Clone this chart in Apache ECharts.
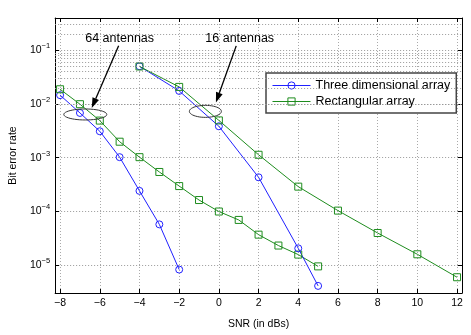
<!DOCTYPE html>
<html>
<head>
<meta charset="utf-8">
<script src="https://cdn.jsdelivr.net/npm/echarts@6/dist/echarts.min.js"></script>
<style>
html, body { margin: 0; padding: 0; background: #fff; }
#chart { width: 471px; height: 335px; }
</style>
</head>
<body>
<div id="chart"></div>
<script>
// SNR values (dB) and bit error rates
var snr3D64 = [-8, -7, -6, -5, -4, -3, -2]
var ber3D64 = [1.46e-2, 6.8e-3, 3.1e-3, 1.02e-3, 2.4e-4, 5.7e-5, 8.2e-6]
var snrRect64 = [-8, -7, -6, -5, -4, -3, -2, -1, 0, 1, 2, 3, 4, 5]
var berRect64 = [1.88e-2, 9.9e-3, 4.9e-3, 1.98e-3, 1.02e-3, 5.4e-4, 2.95e-4, 1.62e-4, 9.9e-5, 6.9e-5, 3.67e-5, 2.3e-5, 1.56e-5, 9.4e-6]
var snr3D16 = [-4, -2, 0, 2, 4, 5]
var ber3D16 = [5.05e-2, 1.75e-2, 3.84e-3, 4.3e-4, 2.04e-5, 4.07e-6]
var snrRect16 = [-4, -2, 0, 2, 4, 6, 8, 10, 12]
var berRect16 = [5.0e-2, 2.08e-2, 4.94e-3, 1.13e-3, 2.88e-4, 1.03e-4, 3.94e-5, 1.58e-5, 5.9e-6]

var xTicks = [-8, -6, -4, -2, 0, 2, 4, 6, 8, 10, 12]
var yTickExps = [-5, -4, -3, -2, -1]
var legendNames = ['Three dimensional array', 'Rectangular array']

// annotations (data coordinates)
var noteTexts = ['64 antennas', '16 antennas']
var noteTextAt = [[-5, 0.163], [1.05, 0.163]]
var noteArrowFrom = [[-5.05, 0.121], [0.874, 0.121]]
var noteArrowTo = [[-6.405, 8.45e-3], [-0.148, 1.07e-2]]
var noteEllipseAt = [[-6.73, 6.37e-3], [-0.68, 7.28e-3]]

var BLUE = '#2020ff'
var GREEN = '#1e8c1e'
var FONT = 'Liberation Sans, Arial, Helvetica, sans-serif'

function pairs (xs, ys) {
  return xs.map(function (x, i) { return [x, ys[i]] })
}

// minor log grid values 2..9 x 10^n
var minorGrid = []
for (var n = -6; n <= -1; n++) {
  for (var k = 2; k <= 9; k++) {
    var v = k * Math.pow(10, n)
    if (v > 3e-6 && v < 0.4) minorGrid.push(v)
  }
}

function fmtX (v) {
  var r = Math.round(v)
  if (Math.abs(v - r) > 1e-6 || xTicks.indexOf(r) < 0) return ''
  return r < 0 ? '\u2212' + (-r) : String(r)
}

function fmtY (v) {
  var e = Math.log10(v)
  var r = Math.round(e)
  if (Math.abs(e - r) > 1e-6 || yTickExps.indexOf(r) < 0) return ''
  return '{b|10}{e|' + (r < 0 ? '\u2212' : '') + Math.abs(r) + '}'
}

function lineSeries (name, data, color, symbol) {
  return {
    name: name,
    type: 'line',
    data: data,
    symbol: symbol,
    symbolSize: 7,
    lineStyle: { color: color, width: 1 },
    itemStyle: { color: 'rgba(0,0,0,0)', borderColor: color, borderWidth: 1 },
    emphasis: { disabled: true },
    animation: false,
    z: 3
  }
}

var chart = echarts.init(document.getElementById('chart'))

var series = [
  lineSeries(legendNames[0], pairs(snr3D64, ber3D64), BLUE, 'circle'),
  lineSeries(legendNames[1], pairs(snrRect64, berRect64), GREEN, 'rect'),
  lineSeries(legendNames[0], pairs(snr3D16, ber3D16), BLUE, 'circle'),
  lineSeries(legendNames[1], pairs(snrRect16, berRect16), GREEN, 'rect')
]
series[0].markLine = {
  silent: true,
  symbol: ['none', 'none'],
  label: { show: false },
  animation: false,
  lineStyle: { type: [1, 2], color: '#999', width: 1 },
  data: minorGrid.map(function (v) { return { yAxis: v } })
}

var xBase = {
  type: 'value',
  min: -8.25,
  max: 12.25,
  splitNumber: 10,
  minInterval: 2,
  maxInterval: 2,
  axisLine: { onZero: false, lineStyle: { color: '#000', width: 1 } },
  axisTick: { inside: true, length: 4, lineStyle: { color: '#000' } }
}
var yBase = {
  type: 'log',
  logBase: 10,
  min: 3e-6,
  max: 0.4,
  axisLine: { onZero: false, lineStyle: { color: '#000', width: 1 } },
  axisTick: { inside: true, length: 4, lineStyle: { color: '#000' } }
}

chart.setOption({
  animation: false,
  grid: { left: 47, right: 9, top: 18, bottom: 38 },
  legend: {
    orient: 'vertical',
    left: 266,
    top: 73,
    padding: [6, 6, 5, 6],
    itemWidth: 38,
    itemHeight: 9,
    itemGap: 3,
    backgroundColor: '#fff',
    borderColor: '#444',
    borderWidth: 1.5,
    borderRadius: 0,
    selectedMode: false,
    lineStyle: { width: 1 },
    itemStyle: { borderWidth: 1 },
    textStyle: { fontSize: 12.5, color: '#000', fontFamily: FONT },
    data: legendNames
  },
  xAxis: [
    Object.assign({}, xBase, {
      position: 'bottom',
      axisLabel: { formatter: fmtX, color: '#000', fontSize: 10.5, fontFamily: FONT, margin: 5 },
      splitLine: { show: true, lineStyle: { type: [1, 2], color: '#aaa', width: 1 } },
      name: 'SNR (in dBs)',
      nameLocation: 'middle',
      nameGap: 26,
      nameTextStyle: { color: '#000', fontSize: 10.5, fontFamily: FONT }
    }),
    Object.assign({}, xBase, {
      position: 'top',
      axisLabel: { show: false },
      splitLine: { show: false }
    })
  ],
  yAxis: [
    Object.assign({}, yBase, {
      position: 'left',
      axisLabel: {
        formatter: fmtY,
        margin: 5,
        rich: {
          b: { fontSize: 10.5, color: '#000', fontFamily: FONT },
          e: { fontSize: 7.5, color: '#000', fontFamily: FONT, padding: [0, 0, 8, 0] }
        }
      },
      splitLine: { show: true, lineStyle: { type: [1, 2], color: '#999', width: 1 } },
      name: 'Bit error rate',
      nameLocation: 'middle',
      nameGap: 28,
      nameTextStyle: { color: '#000', fontSize: 10.5, fontFamily: FONT }
    }),
    Object.assign({}, yBase, {
      position: 'right',
      axisLabel: { show: false },
      splitLine: { show: false }
    })
  ],
  series: series
})

// annotations: label, arrow and ellipse placed through the axes
function px (p) {
  return chart.convertToPixel({ xAxisIndex: 0, yAxisIndex: 0 }, p)
}

var graphics = []
var ellipseR = [[21.5, 5.5], [16, 6]]
noteTexts.forEach(function (t, i) {
  var tp = px(noteTextAt[i])
  graphics.push({
    type: 'text',
    x: tp[0],
    y: tp[1],
    style: { text: t, fill: '#000', font: '12.5px ' + FONT, align: 'center', verticalAlign: 'middle' },
    z: 20
  })
  var a = px(noteArrowFrom[i])
  var b = px(noteArrowTo[i])
  var dx = b[0] - a[0]
  var dy = b[1] - a[1]
  var len = Math.sqrt(dx * dx + dy * dy)
  var ux = dx / len
  var uy = dy / len
  var headL = 10
  var headW = 3.5
  var bx = b[0] - ux * headL
  var by = b[1] - uy * headL
  graphics.push({
    type: 'line',
    shape: { x1: a[0], y1: a[1], x2: bx, y2: by },
    style: { stroke: '#000', lineWidth: 1.3 },
    z: 20
  })
  graphics.push({
    type: 'polygon',
    shape: { points: [[b[0], b[1]], [bx - uy * headW, by + ux * headW], [bx + uy * headW, by - ux * headW]] },
    style: { fill: '#000' },
    z: 20
  })
  var c = px(noteEllipseAt[i])
  var pts = []
  for (var j = 0; j < 48; j++) {
    var th = j / 48 * Math.PI * 2
    pts.push([c[0] + ellipseR[i][0] * Math.cos(th), c[1] + ellipseR[i][1] * Math.sin(th)])
  }
  graphics.push({
    type: 'polygon',
    shape: { points: pts },
    style: { fill: 'none', stroke: '#333', lineWidth: 1 },
    z: 20
  })
})
chart.setOption({ graphic: graphics })
</script>
</body>
</html>
